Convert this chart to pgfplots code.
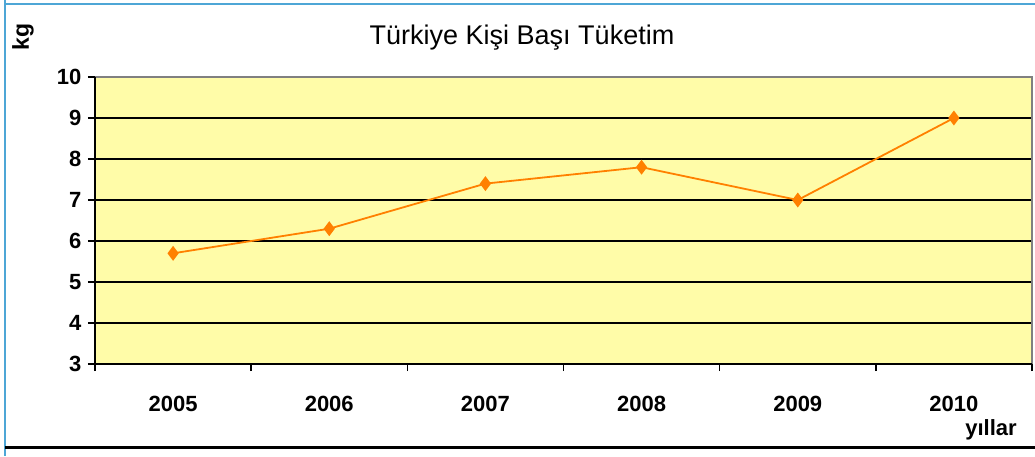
\documentclass[border=0pt]{standalone}
\usepackage{fontspec}
\setmainfont{Liberation Sans}
\usepackage{pgfplots}
\pgfplotsset{compat=1.18}
\definecolor{plotbg}{HTML}{FFFCA8}
\definecolor{lineor}{HTML}{FF8000}
\definecolor{frameblue}{HTML}{4DA6D6}
\begin{document}
\begin{tikzpicture}[x=1pt,y=1pt]
\path[use as bounding box] (0,0) rectangle (1035,456);
% outer frame
\draw[frameblue, line width=2pt] (5,456) -- (5,452) -- (1035,452);
\draw[frameblue, line width=2pt] (5,452) -- (5,0);
\draw[black, line width=2.5pt] (5,8.5) -- (1035,8.5);
\node[anchor=base, font=\fontsize{27}{30}\selectfont] at (522,411) {Türkiye Kişi Başı Tüketim};
\node[rotate=90, font=\bfseries\fontsize{23}{26}\selectfont] at (23,419) {kg};
\node[anchor=base, font=\bfseries\fontsize{22}{25}\selectfont] at (991,21) {yıllar};
\begin{axis}[
  at={(95pt,92pt)}, anchor=south west,
  scale only axis, width=937pt, height=287pt,
  xmin=-0.5, xmax=5.5, ymin=3, ymax=10,
  axis line style={draw=none},
  axis background/.style={fill=plotbg},
  tick pos=left,
  xtick={0,1,2,3,4,5},
  xticklabels={2005,2006,2007,2008,2009,2010},
  minor xtick={-0.5,0.5,1.5,2.5,3.5,4.5,5.5},
  major x tick style={draw=none},
  minor x tick style={black, line width=1.5pt},
  ytick={3,4,...,10},
  major y tick style={black, line width=1.5pt},
  tick align=outside,
  major tick length=7pt, minor tick length=7pt,
  ymajorgrids, y grid style={black, line width=1.5pt},
  ticklabel style={font=\bfseries\fontsize{22}{25}\selectfont},
  xticklabel style={anchor=base, yshift=-40pt},
  yticklabel style={anchor=east, xshift=-3pt},
  /pgf/number format/assume math mode=true,
  clip=false,
]
\draw[gray, line width=1.5pt] (rel axis cs:0,1) -- (rel axis cs:1,1) -- (rel axis cs:1,0);
\draw[black, line width=1.8pt] (rel axis cs:0,1) -- (rel axis cs:0,0) -- (rel axis cs:1,0);
\addplot[lineor, line width=1.8pt, mark=diamond*, mark size=6pt, mark options={fill=lineor, draw=lineor}]
  coordinates {(0,5.7) (1,6.3) (2,7.4) (3,7.8) (4,7.0) (5,9.0)};
\end{axis}
\end{tikzpicture}
\end{document}
